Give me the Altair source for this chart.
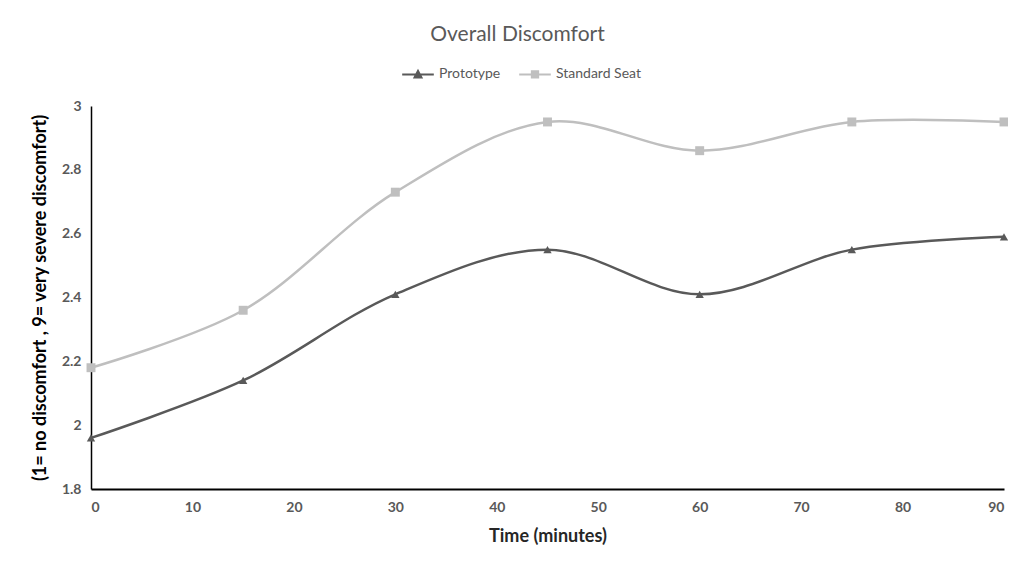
import altair as alt
import pandas as pd

times = [0, 15, 30, 45, 60, 75, 90]
prototype = [1.96, 2.14, 2.41, 2.55, 2.41, 2.55, 2.59]
standard = [2.18, 2.36, 2.73, 2.95, 2.86, 2.95, 2.95]
series_names = ["Prototype", "Standard Seat"]
series_colors = ["#595959", "#bfbfbf"]
x_ticks = [0, 10, 20, 30, 40, 50, 60, 70, 80, 90]
y_ticks = [1.8, 2.0, 2.2, 2.4, 2.6, 2.8, 3.0]

rows = []
for t, v in zip(times, prototype):
    rows.append({"time": t, "value": v, "series": series_names[0]})
for t, v in zip(times, standard):
    rows.append({"time": t, "value": v, "series": series_names[1]})
df = pd.DataFrame(rows)

FONT = "Lato"

x_enc = alt.X(
    "time:Q",
    scale=alt.Scale(domain=[0, 90], nice=False),
    axis=alt.Axis(
        values=x_ticks, title="Time (minutes)", grid=False, ticks=False,
        domainColor="#000000", domainWidth=2, labelColor="#595959",
        labelFont=FONT, labelFontWeight="bold", labelFontSize=14, labelPadding=11,
        titleFont=FONT, titleFontWeight="bold", titleFontSize=18, titleColor="#262626",
        titlePadding=13,
    ),
)
y_enc = alt.Y(
    "value:Q",
    scale=alt.Scale(domain=[1.8, 3.0], nice=False, zero=False),
    axis=alt.Axis(
        values=y_ticks, title="(1= no discomfort , 9= very severe discomfort)",
        grid=False, ticks=False, domainColor="#000000", domainWidth=1.5,
        labelColor="#595959", labelFont=FONT, labelFontWeight="bold",
        labelFontSize=14, labelPadding=10,
        labelExpr="format(datum.value, '~g')",
        titleFont=FONT, titleFontWeight="bold", titleFontSize=18, titleColor="#000000",
        titlePadding=12,
    ),
)
color_scale = alt.Scale(domain=series_names, range=series_colors)

base = alt.Chart(df)

path_tri = ("M-1,0L1,0M-0.22,0.2L0,-0.22L0.22,0.2Z"
            "M-0.12,0.12L0.12,0.12M0,-0.12L0,0.2")
path_sq = ("M-1,0L1,0M-0.2,-0.2L0.2,-0.2L0.2,0.2L-0.2,0.2Z"
           "M-0.1,-0.1L0.1,-0.1L0.1,0.1L-0.1,0.1Z")

leg = alt.Legend(title=None, orient="none", direction="horizontal",
                 legendX=310, legendY=-49,
                 labelFont=FONT, labelFontSize=14, labelColor="#595959",
                 symbolSize=1000, symbolStrokeWidth=2,
                 columnPadding=14, labelOffset=4)

legend_layer = base.transform_filter("false").mark_point(
    filled=False, strokeWidth=2, size=1000, opacity=1
).encode(
    x=x_enc, y=y_enc,
    color=alt.Color("series:N", scale=color_scale, legend=leg),
    shape=alt.Shape("series:N", scale=alt.Scale(domain=series_names, range=[path_tri, path_sq]),
                    legend=leg),
)

lines = base.mark_line(interpolate="catmull-rom", strokeWidth=2.5).encode(
    x=x_enc, y=y_enc,
    color=alt.Color("series:N", scale=color_scale, legend=None),
)

tri = base.transform_filter(alt.datum.series == series_names[0]).mark_point(
    shape="triangle-up", filled=True, size=70, opacity=1
).encode(x="time:Q", y="value:Q",
         color=alt.Color("series:N", scale=color_scale, legend=None))

sq = base.transform_filter(alt.datum.series == series_names[1]).mark_point(
    shape="square", filled=True, size=80, opacity=1
).encode(x="time:Q", y="value:Q",
         color=alt.Color("series:N", scale=color_scale, legend=None))

chart = alt.layer(legend_layer, lines, tri, sq).properties(
    width=913, height=383,
    autosize=alt.AutoSizeParams(type="none"),
    padding={"left": 83, "top": 98, "right": 4, "bottom": 70},
    title=alt.TitleParams("Overall Discomfort", font=FONT, fontSize=21, fontWeight="normal",
                          color="#595959", anchor="middle", dx=-30, offset=12),
    background="white",
).configure_view(stroke=None)

chart.save("out.html", embed_options={"renderer": "svg", "actions": False})
